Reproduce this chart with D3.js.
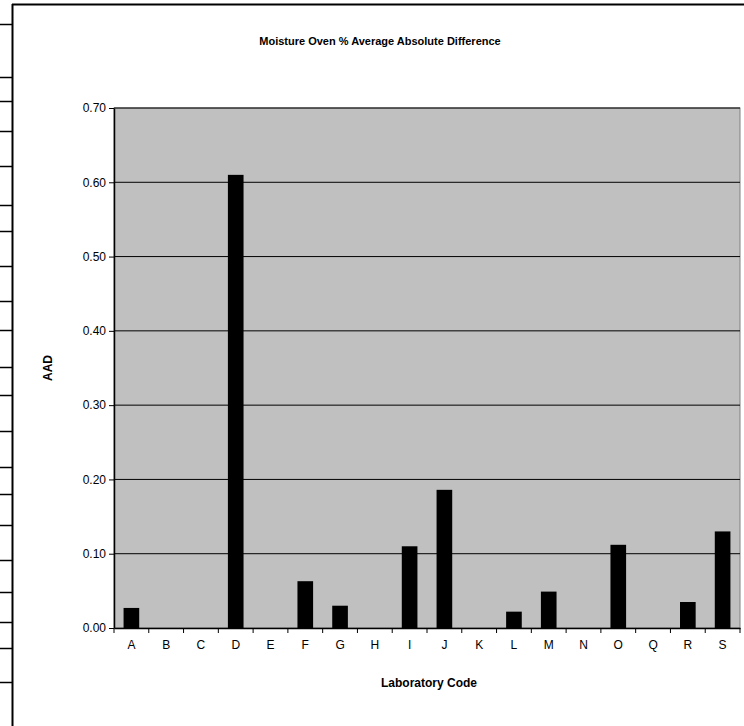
<!DOCTYPE html>
<html><head><meta charset="utf-8">
<script src="https://cdn.jsdelivr.net/npm/d3@7"></script>
<style>body{margin:0;background:#fff;font-family:Arial,"Liberation Sans",sans-serif}</style>
</head><body><svg id="chart" width="744" height="726"></svg>
<script>
var labs = ["A","B","C","D","E","F","G","H","I","J","K","L","M","N","O","Q","R","S"];
var aad = [0.027,0,0,0.61,0,0.063,0.03,0,0.11,0.186,0,0.022,0.049,0,0.112,0,0.035,0.13];
var yTicks = [0,0.1,0.2,0.3,0.4,0.5,0.6,0.7];
var leftRules = [24,77,101,131,166,205,231,266,301,330,367,395,431,467,494,525,560,592,622,648,682];

var svg = d3.select("#chart");
// stray table edge on the left
svg.append("line").attr("x1",12.5).attr("x2",12.5).attr("y1",4).attr("y2",726).attr("stroke","#000").attr("stroke-width",2);
svg.append("line").attr("x1",12).attr("x2",744).attr("y1",4.5).attr("y2",4.5).attr("stroke","#000").attr("stroke-width",2);
svg.selectAll(".rule").data(leftRules).enter().append("line")
    .attr("x1",0).attr("x2",12).attr("y1",function(d){return d+0.5}).attr("y2",function(d){return d+0.5})
    .attr("stroke","#000").attr("stroke-width",1.5);

var m = {l:114, r:740, t:108, b:628};
var x = d3.scaleBand().domain(labs).range([m.l,m.r]).paddingInner(0.55).paddingOuter(0.275);
var y = d3.scaleLinear().domain([0,0.7]).range([m.b,m.t]);

svg.append("rect").attr("x",m.l).attr("y",m.t).attr("width",m.r-m.l).attr("height",m.b-m.t)
    .attr("fill","#c0c0c0").attr("stroke","#808080");
svg.selectAll(".grid").data(yTicks.slice(1)).enter().append("line")
    .attr("x1",m.l).attr("x2",m.r).attr("y1",function(d){return y(d)}).attr("y2",function(d){return y(d)})
    .attr("stroke","#000");
svg.selectAll(".bar").data(aad).enter().append("rect")
    .attr("x",function(d,i){return x(labs[i])}).attr("width",x.bandwidth())
    .attr("y",function(d){return y(d)}).attr("height",function(d){return y(0)-y(d)})
    .attr("fill","#000");

var ya = svg.append("g").attr("transform","translate("+m.l+",0)")
    .call(d3.axisLeft(y).tickValues(yTicks).tickFormat(d3.format(".2f")).tickSize(5).tickSizeOuter(0));
var xb = d3.scaleBand().domain(labs).range([m.l,m.r]);
var xa = svg.append("g").attr("transform","translate(0,"+m.b+")")
    .call(d3.axisBottom(xb).tickSize(0).tickPadding(12));
xa.selectAll(".tick line").remove();
xa.selectAll(".xt").data(d3.range(labs.length+1)).enter().append("line")
    .attr("x1",function(i){return m.l+i*xb.step()}).attr("x2",function(i){return m.l+i*xb.step()})
    .attr("y1",0).attr("y2",5).attr("stroke","#000");
[ya,xa].forEach(function(g){
  g.selectAll("text").attr("font-family","Arial,Liberation Sans").attr("font-size",12).attr("fill","#000");
  g.selectAll(".domain,line").attr("stroke","#000");
});
xa.select(".domain").attr("stroke-width",1.5);
ya.select(".domain").attr("stroke-width",1.5);

svg.append("text").attr("x",380).attr("y",45).attr("text-anchor","middle")
    .attr("font-size",11).attr("font-weight","bold").text("Moisture Oven % Average Absolute Difference");
svg.append("text").attr("transform","translate(52,368) rotate(-90)").attr("text-anchor","middle")
    .attr("font-size",12).attr("font-weight","bold").text("AAD");
svg.append("text").attr("x",429).attr("y",687).attr("text-anchor","middle")
    .attr("font-size",12).attr("font-weight","bold").text("Laboratory Code");
</script></body></html>
